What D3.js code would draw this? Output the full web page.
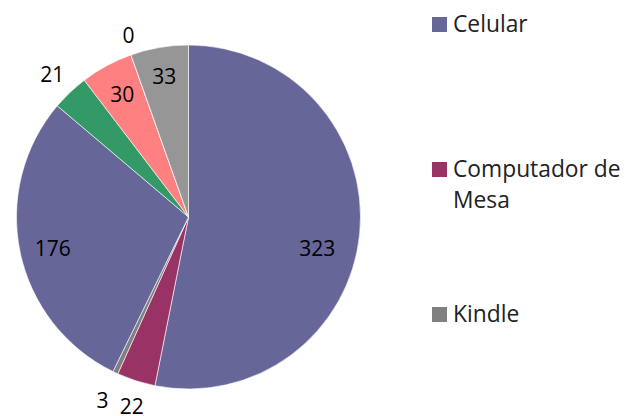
<!DOCTYPE html>
<html>
<head>
<meta charset="utf-8">
<style>
  body { margin: 0; background: #fff; }
  text { font-family: "Open Sans", "Noto Sans", sans-serif; fill: #000; }
  .legend text { fill: #222; }
</style>
</head>
<body>
<svg width="627" height="416"></svg>
<script src="https://d3js.org/d3.v7.min.js"></script>
<script>
// slice values, clockwise from 12 o'clock
const values = [323, 22, 3, 176, 21, 30, 0, 33];
const colors = ["#666699", "#993366", "#808080", "#666699", "#339966", "#ff8080", "#0066cc", "#969696"];
// the legend only shows the first three entries (it is cut off)
const legendLabels = [["Celular"], ["Computador de", "Mesa"], ["Kindle"]];

// label placement: distance as a share of the radius, and a small angular nudge (degrees)
const labelRadius = [0.77, 1.145, 1.175, 0.81, 1.15, 0.81, 1.114, 0.83];
const labelShift = [8, -1, 0, -1, 0, 0, 1.3, 0];

const svg = d3.select("svg");
const cx = 188.5, cy = 217, r = 172;

const pie = d3.pie().sort(null).value(d => d);
const arcs = pie(values);
const arc = d3.arc().innerRadius(0).outerRadius(r);

const g = svg.append("g").attr("transform", `translate(${cx},${cy})`);

g.selectAll("path")
  .data(arcs)
  .join("path")
  .attr("d", arc)
  .attr("fill", (d, i) => colors[i])
  .attr("stroke", "#fff")
  .attr("stroke-width", 0.6);

g.selectAll("text")
  .data(arcs)
  .join("text")
  .attr("text-anchor", "middle")
  .attr("dominant-baseline", "central")
  .attr("font-size", 21)
  .attr("transform", (d, i) => {
    const a = (d.startAngle + d.endAngle) / 2 + labelShift[i] * Math.PI / 180;
    const dist = r * labelRadius[i];
    return `translate(${dist * Math.sin(a)},${-dist * Math.cos(a)})`;
  })
  .text(d => d.data);

// legend
const legend = svg.append("g").attr("class", "legend");
const item = legend.selectAll("g")
  .data(legendLabels)
  .join("g")
  .attr("transform", (d, i) => `translate(432,${24.5 + i * 145})`);

item.append("rect")
  .attr("x", 0).attr("y", -7.5)
  .attr("width", 15).attr("height", 15)
  .attr("fill", (d, i) => colors[i]);

item.append("text")
  .attr("x", 21)
  .attr("font-size", 22.8)
  .selectAll("tspan")
  .data(d => d)
  .join("tspan")
  .attr("x", 21)
  .attr("y", (d, j) => 7.5 + j * 30.5)
  .text(d => d);
</script>
</body>
</html>
